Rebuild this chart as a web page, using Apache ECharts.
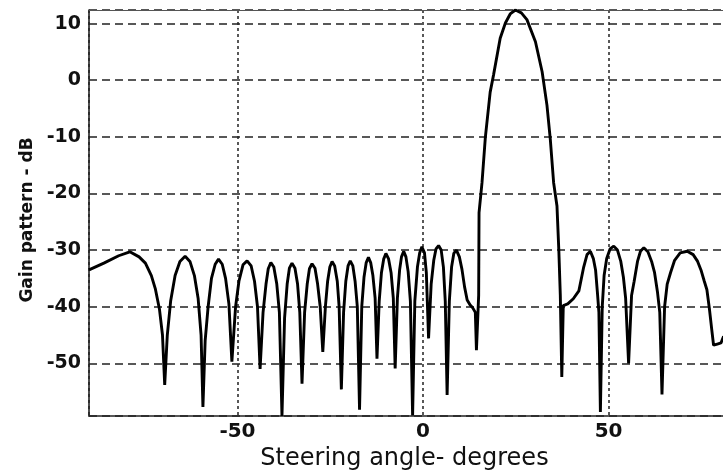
<!DOCTYPE html>
<html>
<head>
<meta charset="utf-8">
<script src="https://cdn.jsdelivr.net/npm/echarts@6/dist/echarts.min.js"></script>
<style>
html,body{margin:0;padding:0;background:#fff;}
#c{width:723px;height:472px;}
</style>
</head>
<body>
<div id="c"></div>
<script>
// Steering angle (degrees)
var angles = [
-90,-86,-82,-79,-76.5,-74.8,-73.2,-72.1,-71,-70.2,-69.6,-68.9,-68,-66.8,-65.5,-64.1,-62.8,-61.6,-60.6,-59.8,-59.3,
-58.7,-57.9,-57,-56,-55.1,-54.1,-53.2,-52.3,-51.5,-50.5,-49.6,-48.5,-47.4,-46.3,-45.4,-44.6,-43.9,-43.1,-42.3,-41.7,
-41,-40.2,-39.4,-38.7,-38,-37.3,-36.6,-36,-35.3,-34.5,-33.8,-33.2,-32.6,-31.9,-31.2,-30.6,-29.9,-29.1,-28.4,-27.7,
-27,-26.3,-25.7,-25.1,-24.5,-23.8,-23.1,-22.6,-22,-21.4,-20.8,-20.2,-19.6,-18.9,-18.3,-17.7,-17.1,-16.5,-15.9,-15.3,
-14.7,-14.1,-13.5,-12.9,-12.4,-11.8,-11.2,-10.6,-10,-9.3,-8.6,-8,-7.5,-6.9,-6.3,-5.8,-5.2,-4.6,-4,-3.4,-2.8,-2.2,
-1.5,-0.9,-0.3,0.4,0.9,1.5,2.2,2.9,3.5,4.2,4.9,5.5,6,6.5,7.1,7.7,8.3,9,9.8,10.5,11.2,11.9,12.7,13.4,14.1,14.4,
15,15.1,15.9,16.8,18.1,19,20.8,22.2,23.5,24.9,26.5,28,30.3,32.1,33.4,34.3,35.2,36.1,36.6,37,37.4,37.8,39,40.5,42,
43.3,44.2,45.1,45.9,46.5,47,47.4,47.8,48.3,48.8,49.5,50.4,51.4,52.4,53.3,54,54.6,55.4,56.2,56.9,57.8,58.6,59.5,
60.6,61.6,62.4,63.2,63.8,64.4,65.1,65.8,66.7,67.8,69.3,71.2,72.8,74,74.9,75.8,76.5,77.2,77.8,78.3,79.3,80.3,81
];
// Gain pattern (dB)
var gains = [
-33.5,-32.3,-31,-30.3,-31.2,-32.3,-34.5,-36.9,-40.5,-45,-53.8,-45,-39,-34.5,-32,-31.1,-32,-34.5,-38.5,-45,-57.7,
-46,-40,-35,-32.5,-31.6,-32.5,-35,-39.5,-49.7,-40,-35.5,-32.6,-31.9,-32.8,-35.5,-40,-51,-41,-36,-33.3,
-32.2,-33,-36,-41,-59.3,-42,-36,-33.2,-32.3,-33.2,-36,-41,-53.6,-41,-36,-33.3,-32.4,-33.2,-36,-40,
-48,-40,-35.5,-33,-32,-32.8,-35.5,-40,-54.6,-41,-35.5,-32.8,-31.9,-32.8,-35.5,-40,-58.2,-40,-34.8,-32.2,
-31.3,-32.2,-34.5,-38.5,-49.2,-39,-34,-31.6,-30.6,-31.5,-34,-38.5,-50.9,-38.5,-33.5,-31.2,-30.2,-31.2,-33.8,-39,-59.2,-39,
-33,-30.5,-29.4,-30.5,-34,-45.6,-36,-31.8,-29.8,-29.2,-30,-33,-39,-55.6,-39,-33,-30.6,-30,-31.2,-33.4,-36.5,-38.8,-39.7,-40.2,-41,-47.7,
-38,-23.4,-18.1,-10.1,-2.1,0.9,7.4,10.1,11.7,12.4,11.9,10.7,6.8,1.5,-4.4,-10.4,-18.1,-22.2,-30,-38,-52.4,-39.8,-39.5,-38.6,-37.2,
-33,-30.8,-30.2,-31.5,-33.5,-37.5,-41,-58.6,-40,-34.5,-31.5,-29.8,-29.3,-30,-32,-34.8,-38.5,-50,-38,-35.5,-32,-30.2,-29.6,
-30.3,-32,-34,-37.5,-41,-55.5,-40,-36,-34,-31.8,-30.5,-30.2,-30.8,-32,-33.5,-35.5,-37,-40.5,-44,-46.8,-46.6,-46.4,-45.2
];
var xTickLabels = ['-50','0','50'];
var yTickLabels = ['-50','-40','-30','-20','-10','0','10'];

var data = angles.map(function(a,i){return [a,gains[i]];});
var chart = echarts.init(document.getElementById('c'), null, {renderer:'canvas'});
chart.setOption({
  animation:false,
  backgroundColor:'#fff',
  grid:{left:89, top:10, width:668, height:406, show:false, containLabel:false, outerBoundsMode:'none'},
  xAxis:[{
    type:'value', min:-90, max:90, splitNumber:3,
    axisLine:{show:true, onZero:false, lineStyle:{color:'#222', width:1.6}},
    axisTick:{show:false},
    axisLabel:{show:true, showMinLabel:false, showMaxLabel:false, margin:6, fontSize:20, fontFamily:'DejaVu Sans', fontWeight:'bold', color:'#111',
      formatter:function(v){var s=String(v); return xTickLabels.indexOf(s)>=0?s:'';}},
    splitLine:{show:true, lineStyle:{color:'#222', width:1.5, type:[3,3]}},
    name:'Steering angle- degrees', nameLocation:'middle', nameGap:19,
    nameTextStyle:{fontSize:24, fontFamily:'DejaVu Sans', color:'#111', padding:[0,37,0,0]}
  },{
    type:'value', position:'top', min:-90, max:90,
    axisLine:{show:true, onZero:false, lineStyle:{color:'#555', width:1.2}},
    axisTick:{show:false}, axisLabel:{show:false}, splitLine:{show:false}
  }],
  yAxis:{
    type:'value', min:-59.3, max:12.4,
    axisLine:{show:true, onZero:false, lineStyle:{color:'#222', width:1.6}},
    axisTick:{show:false},
    axisLabel:{show:true, showMinLabel:false, showMaxLabel:false, margin:8, fontSize:19, fontFamily:'DejaVu Sans', fontWeight:'bold', color:'#111',
      formatter:function(v){var s=String(v); return yTickLabels.indexOf(s)>=0?s:'';}},
    splitLine:{show:true, lineStyle:{color:'#222', width:1.5, type:[8,5]}},
    name:'Gain pattern - dB', nameLocation:'middle', nameGap:51,
    nameTextStyle:{fontSize:17, fontFamily:'DejaVu Sans', fontWeight:'bold', color:'#111', padding:[0,14,0,0]}
  },
  series:[{
    type:'line', data:data, showSymbol:false, symbol:'none', clip:true, xAxisIndex:0,
    lineStyle:{color:'#000', width:2.9}
  }]
});
</script>
</body>
</html>
